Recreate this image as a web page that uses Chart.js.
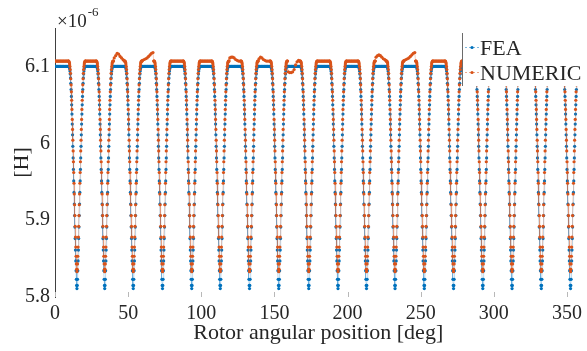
<!DOCTYPE html>
<html>
<head>
<meta charset="utf-8">
<script src="https://cdn.jsdelivr.net/npm/chart.js"></script>
<style>
  html, body { margin: 0; padding: 0; background: #fff; }
  canvas { display: block; }
</style>
</head>
<body>
<canvas id="myChart" width="587" height="351"></canvas>
<script>
    // rotor angle (deg) at the bottom of each dip
    const dipCenters = [15, 34, 53.5, 73.5, 93.5, 113, 133, 153, 173.5, 193.5,
                        213, 232.5, 252.5, 272.5, 292.5, 312.5, 332.5, 352.5];

    // distance from a dip bottom (deg), and the inductance read at that distance [x1e-6 H]
    const dipOffsets = [0, 0.2, 0.4, 0.6, 0.8, 1.0, 1.2, 1.4, 1.6, 1.8, 2.0, 2.2, 2.4, 2.6, 2.8, 3.0,
                        3.2, 3.4, 3.6, 3.8, 4.0, 4.2, 4.4, 4.6, 4.8, 5.0, 5.2, 5.4, 5.6, 5.8, 6.0];
    const feaDip = [5.811, 5.815, 5.823, 5.834, 5.847, 5.861, 5.876, 5.891, 5.906, 5.921, 5.936,
                    5.951, 5.966, 5.981, 5.996, 6.011, 6.025, 6.038, 6.050, 6.061, 6.070,
                    6.078, 6.085, 6.090, 6.094, 6.097, 6.099, 6.100, 6.100, 6.100, 6.100];
    const numericDip = [5.833, 5.836, 5.843, 5.853, 5.865, 5.878, 5.892, 5.906, 5.920, 5.934, 5.948,
                        5.962, 5.976, 5.990, 6.004, 6.018, 6.031, 6.044, 6.056, 6.067, 6.076,
                        6.084, 6.091, 6.096, 6.100, 6.103, 6.105, 6.106, 6.107, 6.107, 6.107];

    // flat tops between dips
    const feaTop = 6.100;
    const numericTop = 6.107;

    // NUMERIC tops that are not flat, by plateau number: [angle, value]
    const numericBumps = {
        2: [[40.5, 6.111], [41.5, 6.114], [42.5, 6.117], [43.5, 6.116], [44.5, 6.113], [45.5, 6.111], [46.5, 6.109], [47, 6.108]],
        3: [[60, 6.108], [61, 6.109], [62, 6.110], [63, 6.111], [64, 6.113], [65, 6.115], [66, 6.117], [67, 6.118]],
        6: [[119.5, 6.111], [120.5, 6.112], [121.5, 6.112], [122.5, 6.111], [123.5, 6.109], [124.5, 6.108], [125.5, 6.107], [126.5, 6.107]],
        7: [[139.5, 6.110], [140.5, 6.112], [141.5, 6.111], [142.5, 6.109], [143.5, 6.108], [144.5, 6.107], [145.5, 6.107], [146.5, 6.107]],
        8: [[159.5, 6.093], [160.5, 6.092], [161.5, 6.092], [162.5, 6.093], [163.5, 6.096], [164.5, 6.102], [165.5, 6.106], [166.5, 6.108], [167, 6.107]],
        11: [[219.5, 6.112], [220.5, 6.114], [221.5, 6.115], [222.5, 6.114], [223.5, 6.112], [224.5, 6.110], [225.5, 6.109], [226, 6.108]],
        12: [[239, 6.108], [240, 6.109], [241, 6.110], [242, 6.111], [243, 6.113], [244, 6.115], [245, 6.117], [246, 6.118]]
    };

    const xTicks = [0, 50, 100, 150, 200, 250, 300, 350];
    const yTicks = [5.8, 5.9, 6.0, 6.1];

    const blue = '#0072BD';
    const orange = '#D95319';
    const textColor = '#262626';
    const serif = '"Liberation Serif", "Times New Roman", serif';

    // put the read dip shape at every dip bottom, and the tops in between
    function buildSeries(dipVals, top, bumps) {
        let pts = [];
        for (let p = 0; p <= dipCenters.length; p++) {
            let from = p === 0 ? 0 : dipCenters[p - 1] + 6.5;
            let to = p === dipCenters.length ? 360 : dipCenters[p] - 6.5;
            if (bumps[p]) {
                bumps[p].forEach(b => pts.push({ x: b[0], y: b[1] }));
            } else {
                for (let a = from; a <= to + 1e-9; a += 0.5) pts.push({ x: a, y: top });
            }
        }
        dipCenters.forEach(c => {
            dipOffsets.forEach((d, i) => {
                pts.push({ x: c - d, y: dipVals[i] });
                if (d > 0) pts.push({ x: c + d, y: dipVals[i] });
            });
        });
        pts.sort((a, b) => a.x - b.x);
        return pts;
    }

    const overlay = {
        id: 'overlay',
        afterDraw(chart) {
            const ctx = chart.ctx, area = chart.chartArea, xs = chart.scales.x;
            ctx.save();
            // small inward ticks on the bottom edge
            ctx.strokeStyle = '#b8b8b8';
            ctx.lineWidth = 1;
            xTicks.forEach(v => {
                const px = Math.round(xs.getPixelForValue(v)) + 0.5;
                ctx.beginPath();
                ctx.moveTo(px, area.bottom);
                ctx.lineTo(px, area.bottom - 5);
                ctx.stroke();
            });
            // exponent label
            ctx.fillStyle = textColor;
            ctx.textAlign = 'left';
            ctx.textBaseline = 'alphabetic';
            ctx.font = '19px ' + serif;
            ctx.fillText('\u00d710', area.left + 2, 27);
            const w = ctx.measureText('\u00d710').width;
            ctx.font = '13px ' + serif;
            ctx.fillText('-6', area.left + 3 + w, 16);

            // legend box
            ctx.fillStyle = '#ffffff';
            ctx.fillRect(463, 31, 119, 55);
            ctx.strokeStyle = '#6b6b6b';
            ctx.beginPath();
            ctx.moveTo(462.5, 33);
            ctx.lineTo(462.5, 86);
            ctx.stroke();
            const rows = [['FEA', blue, 47], ['NUMERIC', orange, 72]];
            rows.forEach(r => {
                ctx.strokeStyle = r[1];
                ctx.globalAlpha = 0.5;
                ctx.setLineDash([2, 2]);
                ctx.beginPath();
                ctx.moveTo(465, r[2] + 0.5);
                ctx.lineTo(479, r[2] + 0.5);
                ctx.stroke();
                ctx.setLineDash([]);
                ctx.globalAlpha = 1;
                ctx.fillStyle = r[1];
                ctx.beginPath();
                ctx.arc(472, r[2] + 0.5, 1.6, 0, Math.PI * 2);
                ctx.fill();
                ctx.fillStyle = textColor;
                ctx.font = '22px ' + serif;
                ctx.textBaseline = 'middle';
                ctx.fillText(r[0], 480, r[2] + 2);
            });
            ctx.restore();
        }
    };

    const ctx = document.getElementById('myChart').getContext('2d');

    const myChart = new Chart(ctx, {
        type: 'scatter',
        data: {
            datasets: [{
                label: 'FEA',
                data: buildSeries(feaDip, feaTop, {}),
                showLine: true,
                borderColor: 'rgba(0, 114, 189, 0.35)',
                borderWidth: 0.8,
                backgroundColor: blue,
                pointBorderColor: blue,
                pointRadius: 1.6,
                pointBorderWidth: 0,
                order: 1
            }, {
                label: 'NUMERIC',
                data: buildSeries(numericDip, numericTop, numericBumps),
                showLine: true,
                borderColor: 'rgba(217, 83, 25, 0.35)',
                borderWidth: 0.8,
                backgroundColor: orange,
                pointBorderColor: orange,
                pointRadius: 1.6,
                pointBorderWidth: 0,
                order: 0
            }]
        },
        options: {
            responsive: false,
            animation: false,
            layout: { padding: { top: 28, right: 0, left: 0, bottom: 0 } },
            plugins: {
                legend: { display: false },
                tooltip: { enabled: false }
            },
            scales: {
                x: {
                    type: 'linear',
                    min: 0,
                    max: 360,
                    afterBuildTicks: s => { s.ticks = xTicks.map(v => ({ value: v })); },
                    afterFit: s => { s.height = 54; },
                    grid: { display: false, drawTicks: false },
                    border: { display: false },
                    ticks: {
                        padding: 5,
                        color: textColor,
                        font: { family: serif, size: 20 },
                        maxRotation: 0,
                        callback: v => String(v)
                    },
                    title: {
                        display: true,
                        text: 'Rotor angular position [deg]',
                        color: textColor,
                        font: { family: serif, size: 22 },
                        padding: { top: 0, bottom: 5 }
                    }
                },
                y: {
                    type: 'linear',
                    min: 5.8,
                    max: 6.15,
                    afterBuildTicks: s => { s.ticks = yTicks.map(v => ({ value: v })); },
                    afterFit: s => { s.width = 55; },
                    grid: { display: false, drawTicks: false },
                    border: { display: true, color: '#404040', width: 1 },
                    ticks: {
                        padding: 5,
                        color: textColor,
                        font: { family: serif, size: 20 },
                        callback: v => String(Number(v.toFixed(2)))
                    },
                    title: {
                        display: true,
                        text: '[H]',
                        color: textColor,
                        font: { family: serif, size: 22 },
                        padding: { top: 9, bottom: 0 }
                    }
                }
            }
        },
        plugins: [overlay]
    });
</script>
</body>
</html>
